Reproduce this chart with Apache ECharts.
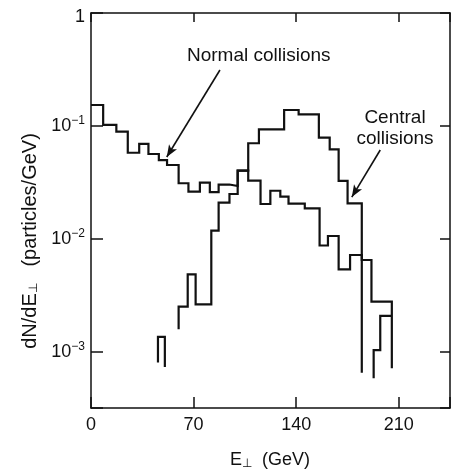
<!DOCTYPE html>
<html>
<head>
<meta charset="utf-8">
<script src="https://cdn.jsdelivr.net/npm/echarts@6/dist/echarts.min.js"></script>
<style>
  html, body { margin: 0; padding: 0; background: #ffffff; }
  #chart { width: 453px; height: 472px; }
</style>
</head>
<body>
<div id="chart"></div>
<script>
// Transverse-energy spectra: bin edges in GeV, dN/dE⊥ per bin in particles/GeV.

// Normal collisions, main run of bins
const normalEdges = [0, 8.3, 17.3, 25.1, 32.9, 39.2, 46.3, 51.9, 59.8, 66.5, 74.3, 81.1, 87.1,
  94.5, 100.1, 107.3, 115.7, 122.4, 129.2, 134.8, 145.9, 156.0, 161.7, 169.0, 176.8, 184.8];
const normalValues = [0.153, 0.102, 0.0888, 0.0578, 0.0691, 0.0563, 0.0498, 0.0450, 0.0310,
  0.0261, 0.0314, 0.0259, 0.0302, 0.0293, 0.0401, 0.0327, 0.0203, 0.0266, 0.0236, 0.0205,
  0.0186, 0.00871, 0.01057, 0.00536, 0.00717];
const normalFloors = [null, 0.00065];          // levels the outer edges fall to

// Normal collisions, isolated high-E⊥ bins
const normalTailEdges = [192.9, 197.4, 205.3];
const normalTailValues = [0.00103, 0.00207];
const normalTailFloors = [0.00058, null];

// Central collisions, isolated low-E⊥ bin
const centralLowEdges = [45.7, 50.4];
const centralLowValues = [0.00135];
const centralLowFloors = [0.0008, 0.00073];

// Central collisions, main run of bins
const centralEdges = [59.8, 66.0, 71.4, 82.1, 87.1, 94.5, 100.1, 107.3, 114.6, 131.8, 141.7,
  155.5, 162.9, 169.0, 175.1, 184.8, 191.4, 205.3];
const centralValues = [0.00250, 0.00484, 0.00262, 0.01178, 0.02085, 0.0249, 0.0401, 0.0701,
  0.0932, 0.1382, 0.1266, 0.0785, 0.0620, 0.0325, 0.0206, 0.00648, 0.00277];
const centralFloors = [0.00158, 0.00071];

// Axis ranges and ticks
const xTicks = [0, 70, 140, 210];
const xMax = 245;
const yMin = Math.pow(10, -3.5);
const yMax = 1;

// Turn bin edges + values into a stepped outline
function histogramPath(edges, values, floors) {
  const pts = [];
  if (floors[0] != null) pts.push([edges[0], floors[0]]);
  for (let i = 0; i < values.length; i++) {
    pts.push([edges[i], values[i]]);
    pts.push([edges[i + 1], values[i]]);
  }
  if (floors[1] != null) pts.push([edges[edges.length - 1], floors[1]]);
  return pts;
}

const INK = '#111111';
const FONT = '"Liberation Sans", Arial, Helvetica, sans-serif';

function stepSeries(name, pts) {
  return {
    name: name,
    type: 'line',
    data: pts,
    showSymbol: false,
    symbol: 'none',
    lineStyle: { color: INK, width: 2.2, join: 'miter' },
    z: 3,
    silent: true
  };
}

function logLabel(v) {
  const e = Math.log10(v);
  const r = Math.round(e);
  if (Math.abs(e - r) > 1e-6) return '';
  if (r === 0) return '{one|1}';
  return '10{sup|\u2212' + (-r) + '}';
}

const chart = echarts.init(document.getElementById('chart'), null, { renderer: 'canvas' });

const arrowLine = { color: INK, width: 1.6, type: 'solid' };
const axisInk = { color: INK, width: 1.5 };
const subStyle = { fontSize: 12, fontFamily: FONT, fill: INK, verticalAlign: 'bottom', lineHeight: 20, padding: [12, 0, 0, 0] };

chart.setOption({
  animation: false,
  backgroundColor: '#ffffff',
  grid: { left: 91, top: 13, right: -3, bottom: 64, containLabel: false },
  xAxis: [
    {
      type: 'value', min: 0, max: xMax, interval: 70, position: 'bottom',
      axisLine: { show: true, onZero: false, lineStyle: axisInk },
      axisTick: { show: true, inside: true, length: 11, lineStyle: axisInk },
      axisLabel: {
        show: true, margin: 8, color: INK, fontFamily: FONT, fontSize: 18,
        formatter: function (v) { return xTicks.indexOf(v) >= 0 ? String(v) : ''; }
      },
      splitLine: { show: false }
    },
    {
      type: 'value', min: 0, max: xMax, interval: 70, position: 'top',
      axisLine: { show: true, onZero: false, lineStyle: axisInk },
      axisTick: { show: true, inside: true, length: 9, lineStyle: axisInk },
      axisLabel: { show: false },
      splitLine: { show: false }
    }
  ],
  yAxis: [
    {
      type: 'log', logBase: 10, min: yMin, max: yMax, position: 'left',
      axisLine: { show: true, onZero: false, lineStyle: axisInk },
      axisTick: { show: true, inside: true, length: 12, lineStyle: axisInk },
      axisLabel: {
        show: true, margin: 6, color: INK, fontFamily: FONT, fontSize: 18,
        formatter: logLabel,
        rich: {
          sup: { fontSize: 12, fontFamily: FONT, color: INK, verticalAlign: 'top', lineHeight: 22, padding: [0, 0, 6, 0] },
          one: { fontSize: 18, fontFamily: FONT, color: INK, padding: [8, 0, 0, 0] }
        }
      },
      minorTick: { show: false },
      splitLine: { show: false }
    },
    {
      type: 'log', logBase: 10, min: yMin, max: yMax, position: 'right',
      axisLine: { show: true, onZero: false, lineStyle: axisInk },
      axisTick: { show: true, inside: true, length: 10, lineStyle: axisInk },
      axisLabel: { show: false },
      splitLine: { show: false }
    }
  ],
  series: [
    stepSeries('Normal collisions', histogramPath(normalEdges, normalValues, normalFloors)),
    stepSeries('Normal collisions tail', histogramPath(normalTailEdges, normalTailValues, normalTailFloors)),
    stepSeries('Central collisions low', histogramPath(centralLowEdges, centralLowValues, centralLowFloors)),
    Object.assign(stepSeries('Central collisions', histogramPath(centralEdges, centralValues, centralFloors)), {
      markLine: {
        silent: true,
        symbol: ['none', 'arrow'],
        symbolSize: [7, 12],
        label: { show: false },
        lineStyle: arrowLine,
        data: [
          [{ coord: [88.0, 0.3126] }, { coord: [51.7, 0.053] }],
          [{ coord: [197.4, 0.0611] }, { coord: [178.0, 0.0234] }]
        ]
      }
    })
  ],
  graphic: [
    {
      type: 'text', left: 187, top: 46,
      style: { text: 'Normal collisions', fill: INK, font: '19px ' + FONT }
    },
    {
      type: 'text', x: 395, y: 107,
      style: { text: 'Central\ncollisions', fill: INK, font: '19px ' + FONT, align: 'center', lineHeight: 21 }
    },
    {
      type: 'text', x: 270, y: 450,
      style: {
        text: 'E{sub|\u22a5}  (GeV)', fill: INK, font: '18px ' + FONT, align: 'center',
        rich: { sub: subStyle }
      }
    },
    {
      type: 'text', x: 30, y: 241, rotation: Math.PI / 2,
      style: {
        text: 'dN/dE{sub|\u22a5}   (particles/GeV)', fill: INK, font: '20px ' + FONT,
        align: 'center', verticalAlign: 'middle',
        rich: { sub: subStyle }
      }
    }
  ]
});
</script>
</body>
</html>
